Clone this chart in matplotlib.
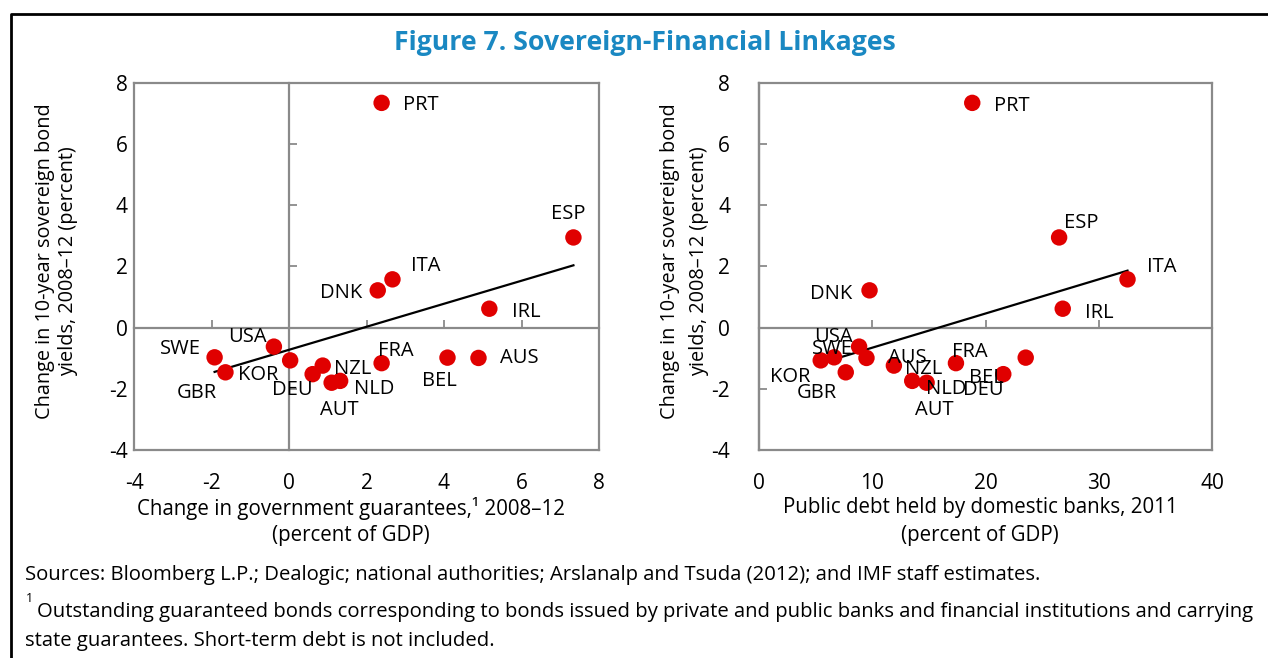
import numpy as np
import matplotlib
matplotlib.use("Agg")
import matplotlib.pyplot as plt
from matplotlib.lines import Line2D

plt.rcParams['font.family'] = ['Open Sans', 'DejaVu Sans']

# ---------------- data ----------------
countries = ["PRT", "ESP", "ITA", "DNK", "IRL", "SWE", "GBR", "USA",
             "KOR", "DEU", "NZL", "AUT", "NLD", "FRA", "BEL", "AUS"]
# Change in 10-year sovereign bond yields, 2008-12 (percent)
yield_change = [7.35, 2.95, 1.58, 1.22, 0.62, -0.97, -1.46, -0.62,
                -1.07, -1.52, -1.24, -1.80, -1.74, -1.16, -0.98, -0.99]
# Change in government guarantees, 2008-12 (percent of GDP)
guarantees = [2.39, 7.34, 2.67, 2.29, 5.17, -1.92, -1.64, -0.39,
              0.03, 0.61, 0.87, 1.10, 1.32, 2.39, 4.09, 4.89]
# Public debt held by domestic banks, 2011 (percent of GDP)
bank_debt = [18.83, 26.50, 32.54, 9.76, 26.82, 6.63, 7.66, 8.84,
             5.45, 21.57, 11.91, 14.80, 13.53, 17.39, 23.55, 9.49]

y_ticks = [-4, -2, 0, 2, 4, 6, 8]
x_ticks_left = [-4, -2, 0, 2, 4, 6, 8]
x_ticks_right = [0, 10, 20, 30, 40]

# label offsets (pixels, +x right, +y up) -- layout only
off_left = {"PRT": (39, -2), "ESP": (-5, 23), "ITA": (33, 13), "DNK": (-37, -3),
            "IRL": (37, -3), "SWE": (-34, 8), "GBR": (-29, -21), "USA": (-26, 10),
            "KOR": (-32, -15), "DEU": (-20, -16), "NZL": (30, -3), "AUT": (8, -27),
            "NLD": (34, -8), "FRA": (14, 12), "BEL": (-8, -23), "AUS": (41, 0)}
off_right = {"PRT": (40, -3), "ESP": (22, 14), "ITA": (34, 12), "DNK": (-38, -4),
             "IRL": (37, -4), "SWE": (-2, 8), "GBR": (-29, -21), "USA": (-26, 10),
             "KOR": (-31, -17), "DEU": (-20, -16), "NZL": (30, -3), "AUT": (8, -27),
             "NLD": (34, -8), "FRA": (14, 11), "BEL": (-39, -20), "AUS": (41, 0)}

W, H = 1268, 658
fig = plt.figure(figsize=(W / 100, H / 100), dpi=100)
fig.patch.set_facecolor("white")

GRAY = "#8a8a8a"
RED = "#E00000"
px = 0.72  # points per pixel at 100 dpi
FS = 14.6


def rect(x0, y0, x1, y1):
    return [x0 / W, 1 - y1 / H, (x1 - x0) / W, (y1 - y0) / H]


def panel(r, xvals, xlim, xticks, offsets, ypad, ylab_x, ylab_ls):
    # under-layer: zero axes with tick marks
    axt = fig.add_axes(r)
    axt.set_xlim(*xlim)
    axt.set_ylim(-4, 8)
    axt.set_xticks(xticks)
    axt.set_yticks(y_ticks)
    for s in ("top", "right"):
        axt.spines[s].set_visible(False)
    axt.spines["left"].set_position(("data", 0))
    axt.spines["bottom"].set_position(("data", 0))
    for s in ("left", "bottom"):
        axt.spines[s].set_color(GRAY)
        axt.spines[s].set_linewidth(1.6)
    axt.tick_params(direction="in", length=6, width=1.3, color=GRAY,
                    labelleft=False, labelbottom=False)
    axt.set_zorder(0)

    ax = fig.add_axes(r)
    ax.set_zorder(1)
    ax.patch.set_visible(False)
    ax.set_xlim(*xlim)
    ax.set_ylim(-4, 8)
    ax.set_xticks(xticks)
    ax.set_yticks(y_ticks)
    ax.set_yticklabels([str(v) for v in y_ticks])
    ax.set_xticklabels([str(v) for v in xticks])
    for s in ax.spines.values():
        s.set_color(GRAY)
        s.set_linewidth(1.6)
    ax.tick_params(length=0, labelsize=15, colors="black")
    ax.tick_params(axis="x", pad=23 * px)
    ax.tick_params(axis="y", pad=ypad * px)

    xv = np.array(xvals)
    yv = np.array(yield_change)
    b, a = np.polyfit(xv, yv, 1)
    xx = np.array([xv.min(), xv.max()])
    ax.plot(xx, a + b * xx, color="black", lw=1.6, zorder=2)
    ax.scatter(xv, yv, s=140, color=RED, edgecolors="none", zorder=3)
    for c, x, y in zip(countries, xv, yv):
        dx, dy = offsets[c]
        ax.annotate(c, (x, y), xytext=(dx * px, dy * px), textcoords="offset points",
                    ha="center", va="center", fontsize=14.5, zorder=4)

    fig.text(ylab_x / W, 1 - 261 / H,
             "Change in 10-year sovereign bond\nyields, 2008\u201312 (percent)",
             rotation=90, ha="center", va="center", fontsize=14.3,
             linespacing=ylab_ls)
    return ax


panel(rect(134, 83, 599, 450), guarantees, (-4, 8), x_ticks_left, off_left,
      6, 57, 1.2)
panel(rect(759, 83, 1212, 450), bank_debt, (0, 40), x_ticks_right, off_right,
      29, 685, 1.6)

# x-axis titles
fig.text(351 / W, 1 - 508 / H, "Change in government guarantees,\u00b9 2008\u201312",
         ha="center", va="center", fontsize=14.8)
fig.text(351 / W, 1 - 536 / H, "(percent of GDP)", ha="center", va="center", fontsize=14.8)
fig.text(980 / W, 1 - 508 / H, "Public debt held by domestic banks, 2011",
         ha="center", va="center", fontsize=14.8)
fig.text(980 / W, 1 - 536 / H, "(percent of GDP)", ha="center", va="center", fontsize=14.8)

# title
fig.text(645 / W, 1 - 43 / H, "Figure 7. Sovereign-Financial Linkages",
         ha="center", va="center", fontsize=19.2, fontweight="bold", color="#1A88C2")

# notes
fig.text(25 / W, 1 - 575 / H,
         "Sources: Bloomberg L.P.; Dealogic; national authorities; Arslanalp and Tsuda (2012); and IMF staff estimates.",
         ha="left", va="center", fontsize=FS)
fig.text(26 / W, 1 - 598 / H, "1", ha="left", va="center", fontsize=9)
fig.text(37 / W, 1 - 612 / H,
         "Outstanding guaranteed bonds corresponding to bonds issued by private and public banks and financial institutions and carrying",
         ha="left", va="center", fontsize=FS)
fig.text(25 / W, 1 - 641 / H, "state guarantees. Short-term debt is not included.",
         ha="left", va="center", fontsize=FS)

# outer frame (top and left)
fig.add_artist(Line2D([11 / W, 11 / W, 1.0], [0.0, 1 - 14 / H, 1 - 14 / H],
                      transform=fig.transFigure, color="black", lw=2.0))

fig.savefig("out.png", dpi=100)
